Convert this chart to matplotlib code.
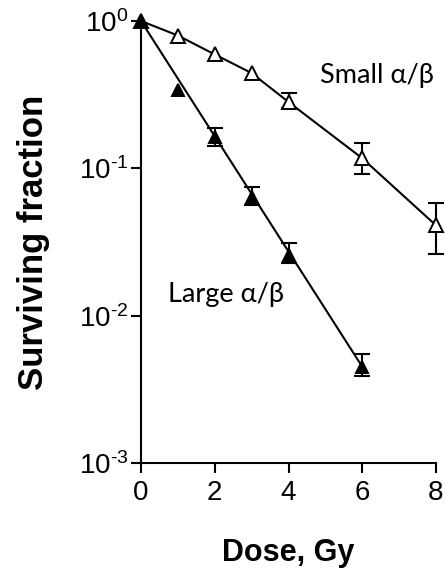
import matplotlib
matplotlib.use("Agg")
import matplotlib.pyplot as plt
import numpy as np

# Data
dose_small = [0, 1, 2, 3, 4, 6, 8]
sf_small = [1.0, 0.797, 0.593, 0.443, 0.282, 0.117, 0.041]
sf_small_lo = [1.0, 0.797, 0.593, 0.443, 0.257, 0.0915, 0.0262]
sf_small_hi = [1.0, 0.797, 0.593, 0.443, 0.325, 0.1486, 0.0581]

dose_large = [0, 1, 2, 3, 4, 6]
sf_large = [1.0, 0.34, 0.163, 0.064, 0.026, 0.0045]
sf_large_lo = [1.0, 0.34, 0.142, 0.056, 0.0227, 0.00389]
sf_large_hi = [1.0, 0.34, 0.188, 0.075, 0.0313, 0.00548]

fit_large_x = [0, 6]
fit_large_y = [1.0, 0.0045]

xticks = [0, 2, 4, 6, 8]
yticks = [1e-3, 1e-2, 1e-1, 1e0]
ytick_labels = ["$10^{\u20103}$", "$10^{\u20102}$", "$10^{\u20101}$", "$10^{0}$"]

plt.rcParams['font.family'] = ['Liberation Sans', 'DejaVu Sans']
plt.rcParams['mathtext.fontset'] = 'custom'
plt.rcParams['mathtext.rm'] = 'Liberation Sans'
plt.rcParams['mathtext.it'] = 'Liberation Sans'
plt.rcParams['mathtext.default'] = 'regular'

fig = plt.figure(figsize=(4.45, 5.71), dpi=100)
ax = fig.add_axes([141/445, 1 - 463/571, (436 - 141)/445, (463 - 21)/571])
ax.set_yscale('log')
ax.set_xlim(0, 8)
ax.set_ylim(1e-3, 1e0)

lw = 1.5
# lines
ax.plot(dose_small, sf_small, color='black', lw=lw, clip_on=False, zorder=2)
ax.plot(fit_large_x, fit_large_y, color='black', lw=lw, clip_on=False, zorder=2)

# error bars (only where an error is visible) and markers
def eb(x, y, lo, hi, fc, ms):
    x = np.array(x); y = np.array(y); lo = np.array(lo); hi = np.array(hi)
    m = hi > lo
    ax.errorbar(x[m], y[m], yerr=[y[m] - lo[m], hi[m] - y[m]], fmt='none',
                ecolor='black', elinewidth=1.5, capsize=5.5, capthick=1.5,
                clip_on=False, zorder=3)
    ax.plot(x, y, ls='none', marker='^', ms=ms, mfc=fc, mec='black', mew=1.4,
            clip_on=False, zorder=4)

eb(dose_small, sf_small, sf_small_lo, sf_small_hi, 'white', 10)
eb(dose_large, sf_large, sf_large_lo, sf_large_hi, 'black', 9)

for s in ['top', 'right']:
    ax.spines[s].set_visible(False)
for s in ['left', 'bottom']:
    ax.spines[s].set_linewidth(1.5)

ax.set_xticks(xticks)
ax.set_xticklabels([str(t) for t in xticks])
ax.set_yticks(yticks)
ax.set_yticklabels(ytick_labels)
ax.minorticks_off()
ax.tick_params(axis='both', which='major', direction='out', length=7, width=1.5,
               labelsize=20, colors='black', pad=2)
ax.tick_params(axis='x', pad=5)

ax.set_xlabel("Dose, Gy", fontsize=22, fontweight='bold', labelpad=23)
ax.set_ylabel("Surviving fraction", fontsize=25, fontweight='bold', labelpad=21)

fig.text(320/445, 1 - 83/571, "Small α/β", fontsize=19.5, family=['Lato', 'DejaVu Sans'],
         va='baseline', ha='left')
fig.text(168/445, 1 - 302/571, "Large α/β", fontsize=19.5, family=['Lato', 'DejaVu Sans'],
         va='baseline', ha='left')

fig.savefig("out.png", dpi=100)
